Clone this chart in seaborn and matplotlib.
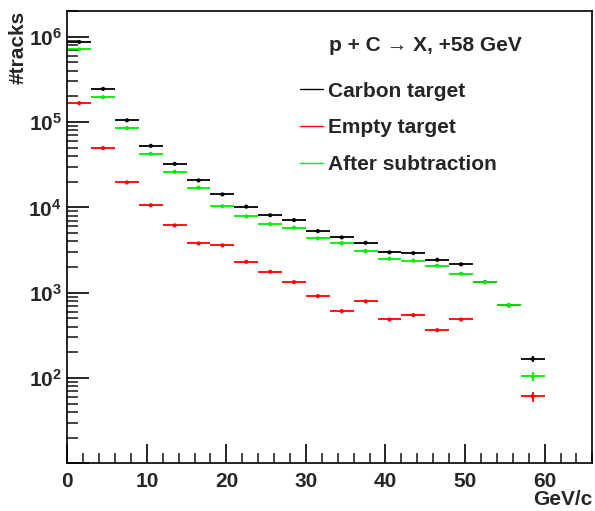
import numpy as np
import pandas as pd
import matplotlib
matplotlib.use("Agg")
import matplotlib.pyplot as plt
import seaborn as sns
from matplotlib.ticker import FixedLocator, MultipleLocator, LogLocator, FuncFormatter, NullFormatter
from matplotlib.lines import Line2D

# ---- data ----
bin_centers = [1.5, 4.5, 7.5, 10.5, 13.5, 16.5, 19.5, 22.5, 25.5, 28.5,
               31.5, 34.5, 37.5, 40.5, 43.5, 46.5, 49.5, 52.5, 55.5, 58.5]
half_width = 1.5

carbon = [8.7e5, 2.45e5, 1.05e5, 5.27e4, 3.24e4, 2.07e4, 1.42e4, 1.02e4, 8.1e3, 7.1e3,
          5.27e3, 4.45e3, 3.85e3, 2.97e3, 2.91e3, 2.43e3, 2.15e3, 1.33e3, 710, 167]
empty = [1.67e5, 4.95e4, 1.96e4, 1.06e4, 6.15e3, 3.78e3, 3.59e3, 2.30e3, 1.76e3, 1.33e3,
         912, 608, 791, 486, 546, 364, 486, np.nan, np.nan, 61]
after = [7.1e5, 1.96e5, 8.5e4, 4.25e4, 2.61e4, 1.70e4, 1.03e4, 7.83e3, 6.37e3, 5.77e3,
         4.33e3, 3.81e3, 3.08e3, 2.50e3, 2.37e3, 2.07e3, 1.67e3, 1.33e3, 710, 105]
carbon_err = [0] * 19 + [13]
empty_err = [0] * 19 + [8]
after_err = [0] * 19 + [12]

series_names = ["Carbon target", "Empty target", "After subtraction"]
series_colors = ["#000000", "#ff0000", "#00ee00"]
header = "p + C \u2192 X, +58 GeV"
xlabel = "GeV/c"
ylabel = "#tracks"

df = pd.concat([
    pd.DataFrame({"x": bin_centers, "y": vals, "err": errs, "series": name})
    for name, vals, errs in zip(series_names, [carbon, empty, after],
                                [carbon_err, empty_err, after_err])
], ignore_index=True)

# ---- style ----
sns.set_theme(style="ticks")
plt.rcParams["font.family"] = ["Liberation Sans", "DejaVu Sans"]
plt.rcParams["font.weight"] = "bold"
plt.rcParams["mathtext.fontset"] = "custom"
plt.rcParams["mathtext.rm"] = "Liberation Sans:bold"
plt.rcParams["mathtext.bf"] = "Liberation Sans:bold"
plt.rcParams["mathtext.it"] = "Liberation Sans:bold"

fig = plt.figure(figsize=(5.95, 5.11), dpi=100)
fig.patch.set_facecolor("white")
ax = fig.add_axes([0.1131, 0.0933, 0.8824, 0.8857])
ax.set_facecolor("white")

palette = dict(zip(series_names, series_colors))
for name in series_names:
    sub = df[df["series"] == name].dropna(subset=["y"])
    ax.errorbar(sub["x"], sub["y"], xerr=half_width,
                yerr=sub["err"],
                fmt="none", ecolor=palette[name], elinewidth=1.3, capsize=0, zorder=2)

sns.scatterplot(data=df.dropna(subset=["y"]), x="x", y="y", hue="series",
                hue_order=series_names, palette=palette, s=9, linewidth=0,
                legend=False, ax=ax, zorder=3)

ax.set_yscale("log")
ax.set_xlim(0, 66)
ax.set_ylim(10, 2.02e6)

# ticks
ax.xaxis.set_major_locator(FixedLocator([0, 10, 20, 30, 40, 50, 60]))
ax.xaxis.set_minor_locator(MultipleLocator(2))
ax.yaxis.set_major_locator(LogLocator(base=10, numticks=10))
ax.yaxis.set_minor_locator(LogLocator(base=10, subs=np.arange(2, 10), numticks=20))
ax.yaxis.set_minor_formatter(NullFormatter())
ax.yaxis.set_major_formatter(FuncFormatter(
    lambda v, p: r"$\mathbf{10^{%d}}$" % int(round(np.log10(v))) if v > 10 else ""))
ax.xaxis.set_major_formatter(FuncFormatter(lambda v, p: "%d" % v))

ax.tick_params(axis="x", which="major", direction="in", length=14, width=1.2,
               labelsize=15, pad=6, top=False, color="black")
ax.tick_params(axis="x", which="minor", direction="in", length=7, width=1.2, top=False)
ax.tick_params(axis="y", which="major", direction="in", length=16, width=1.2,
               labelsize=15, pad=4, right=False, color="black")
ax.tick_params(axis="y", which="minor", direction="in", length=8, width=1.2, right=False)
for lbl in ax.get_xticklabels() + ax.get_yticklabels():
    lbl.set_fontweight("bold")

for sp in ax.spines.values():
    sp.set_visible(True)
    sp.set_color("black")
    sp.set_linewidth(1.2)

ax.set_xlabel(xlabel, fontsize=15, fontweight="bold", loc="right")
ax.xaxis.set_label_coords(1.0, -0.058)
ax.set_ylabel(ylabel, fontsize=15, fontweight="bold", loc="top")
ax.yaxis.set_label_coords(-0.076, 1.0)

# header and legend
ax.text(0.498, 0.924, header, transform=ax.transAxes, fontsize=15,
        fontweight="bold", ha="left", va="center")
handles = [Line2D([0], [0], color=c, lw=1.0) for c in series_colors]
leg = ax.legend(handles, series_names, loc="upper left",
                bbox_to_anchor=(0.443, 0.843), frameon=False, fontsize=15,
                handlelength=1.1, handletextpad=0.25, labelspacing=0.85,
                borderaxespad=0, borderpad=0)
for t in leg.get_texts():
    t.set_fontweight("bold")

fig.savefig("out.png", dpi=100, facecolor="white")
